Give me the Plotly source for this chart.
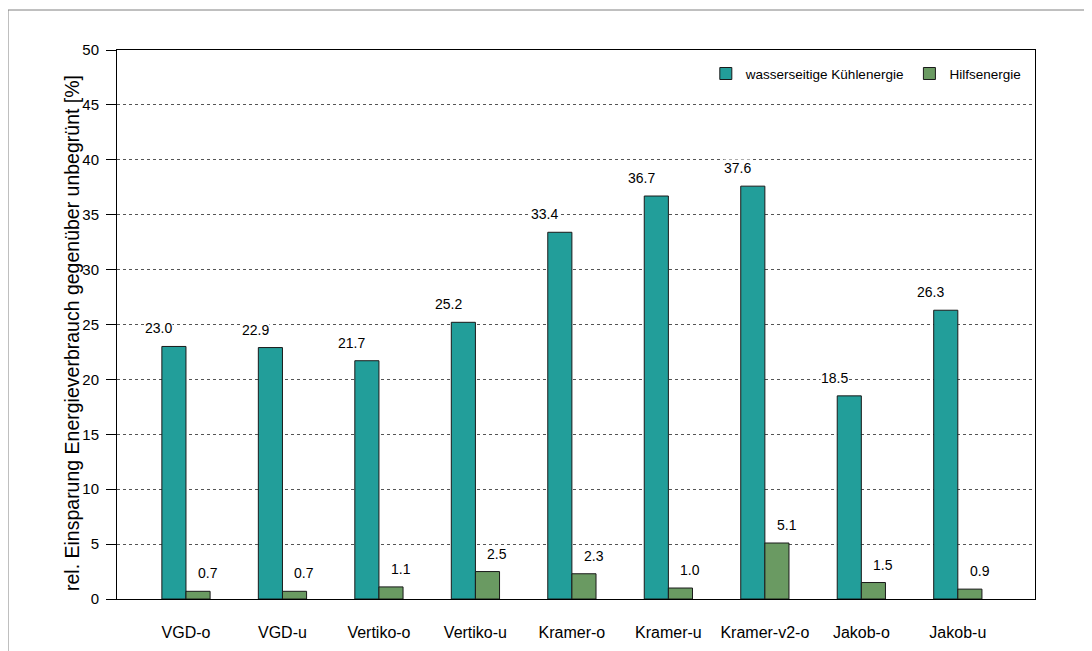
import plotly.graph_objects as go

categories = ["VGD-o", "VGD-u", "Vertiko-o", "Vertiko-u", "Kramer-o",
              "Kramer-u", "Kramer-v2-o", "Jakob-o", "Jakob-u"]
kuehl = [23.0, 22.9, 21.7, 25.2, 33.4, 36.7, 37.6, 18.5, 26.3]
hilfs = [0.7, 0.7, 1.1, 2.5, 2.3, 1.0, 5.1, 1.5, 0.9]
series_names = ["wasserseitige Kühlenergie", "Hilfsenergie"]
y_ticks = [0, 5, 10, 15, 20, 25, 30, 35, 40, 45, 50]
y_title = "rel. Einsparung Energieverbrauch gegenüber unbegrünt [%]"

FONT = "Arial, Liberation Sans, sans-serif"
TEAL = "#229E9A"
GREEN = "#6A9A62"

fig = go.Figure()
fig.add_trace(go.Bar(x=categories, y=kuehl, name=series_names[0],
                     marker=dict(color=TEAL, line=dict(color="#1a1a1a", width=1))))
fig.add_trace(go.Bar(x=categories, y=hilfs, name=series_names[1],
                     marker=dict(color=GREEN, line=dict(color="#1a1a1a", width=1))))

# page body has an 8px margin; figure is placed at (8, 8)
OFF = 8
W, H = 1092 - OFF, 651 - OFF
L, T = 117 - OFF, 50 - OFF
R = W - (1035 - OFF)
B = H - (599 - OFF)
pw, ph = W - L - R, H - T - B

annotations = []
for c, v in zip(categories, kuehl):
    annotations.append(dict(x=c, y=v, xref="x", yref="y", text=f"{v:.1f}",
                            showarrow=False, xshift=-27, yshift=18, yanchor="middle",
                            bgcolor="white", borderpad=0,
                            font=dict(family=FONT, size=14, color="black")))
for c, v in zip(categories, hilfs):
    annotations.append(dict(x=c, y=v, xref="x", yref="y", text=f"{v:.1f}",
                            showarrow=False, xshift=22, yshift=18, yanchor="middle",
                            bgcolor="white", borderpad=0,
                            font=dict(family=FONT, size=14, color="black")))
annotations.append(dict(x=(72 - 117) / pw, y=(599 - 333) / ph, xref="paper", yref="paper",
                        text=y_title, textangle=-90, showarrow=False,
                        xanchor="center", yanchor="middle",
                        font=dict(family=FONT, size=19.5, color="black")))

fig.update_layout(
    width=W, height=H,
    margin=dict(l=L, r=R, t=T, b=B, autoexpand=False),
    paper_bgcolor="white", plot_bgcolor="white",
    barmode="group", bargap=0.5, bargroupgap=0,
    font=dict(family=FONT, size=14, color="black"),
    showlegend=True,
    legend=dict(orientation="h", x=0.99, xanchor="right", y=0.985, yanchor="top",
                font=dict(family=FONT, size=13.5, color="black"),
                bgcolor="rgba(0,0,0,0)", traceorder="normal"),
    annotations=annotations,
    shapes=[dict(type="rect", xref="paper", yref="paper",
                 x0=(8 - 117) / pw, x1=(1100 - 117) / pw,
                 y0=(599 - 660) / ph, y1=(599 - 10) / ph,
                 line=dict(color="#808080", width=1), fillcolor="rgba(0,0,0,0)",
                 layer="below")],
)
fig.update_xaxes(type="category", range=[-0.715, 8.8], automargin=False,
                 showline=True, linecolor="black", linewidth=1, mirror=True,
                 ticks="", showgrid=False, ticklabelstandoff=19,
                 tickfont=dict(family=FONT, size=16, color="black"))
fig.update_yaxes(range=[0, 50], tickvals=y_ticks, ticktext=[str(t) for t in y_ticks],
                 automargin=False,
                 showline=True, linecolor="black", linewidth=1, mirror=True,
                 ticks="outside", ticklen=10, tickcolor="black",
                 showgrid=True, gridcolor="#555555", gridwidth=1, griddash="dot",
                 zeroline=False, ticklabelstandoff=4,
                 tickfont=dict(family=FONT, size=15, color="black"))

fig.write_html("out.html")
